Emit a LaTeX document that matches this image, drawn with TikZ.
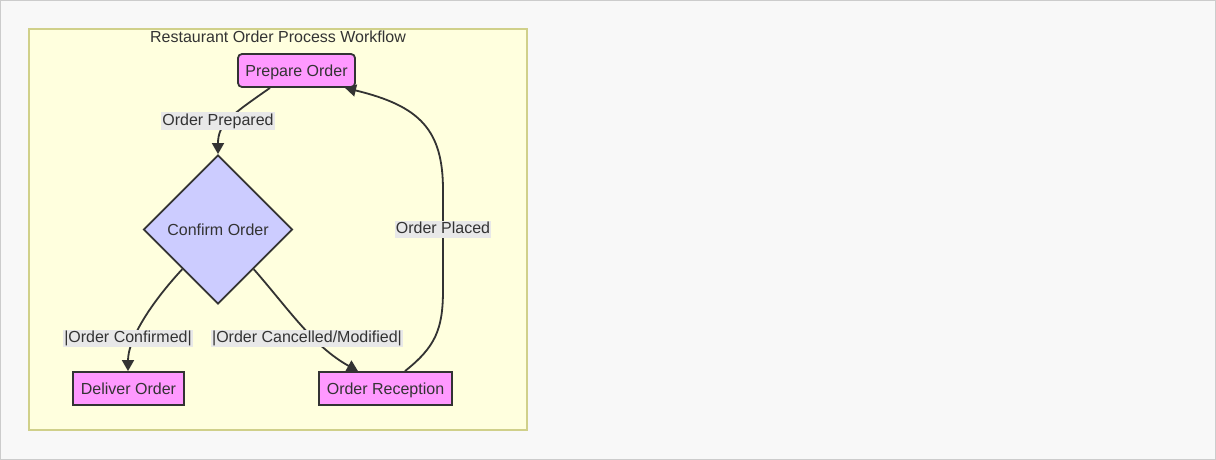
\documentclass[tikz,border=0pt]{standalone}
\usepackage{fontspec}
\setmainfont{Liberation Sans}
\usetikzlibrary{shapes.geometric,arrows.meta}
\definecolor{bgc}{HTML}{F8F8F8}
\definecolor{bgborder}{HTML}{CCCCCC}
\definecolor{clfill}{HTML}{FFFFDE}
\definecolor{clborder}{HTML}{D0D08A}
\definecolor{pinkfill}{HTML}{FF99FF}
\definecolor{bluefill}{HTML}{CCCCFF}
\definecolor{ink}{HTML}{333333}
\definecolor{lblbg}{HTML}{E8E8E8}
\tikzset{
  every node/.style={font=\fontsize{16}{19}\selectfont, text=ink},
  procbox/.style={draw=ink, line width=1.8pt, fill=pinkfill, minimum height=33pt, inner sep=0pt, text height=11.5pt, text depth=0pt},
  decbox/.style={diamond, draw=ink, line width=1.8pt, fill=bluefill, minimum width=149pt, minimum height=149pt, inner sep=0pt, aspect=1, text height=11.5pt, text depth=0pt},
  lbl/.style={fill=lblbg, inner xsep=1pt, inner ysep=1pt, text height=12pt, text depth=3.5pt},
  arr/.style={draw=ink, line width=1.8pt, -{Triangle[length=11pt,width=12pt]}},
}
\begin{document}
\begin{tikzpicture}[x=1pt,y=-1pt]
\path[use as bounding box, fill=bgc, draw=bgborder, line width=1pt] (0.5,0.5) rectangle (1215.5,459.5);
\draw[fill=clfill, draw=clborder, line width=1.2pt] (29,29) rectangle (527,430);
\node[text height=11.5pt, text depth=0pt] (title) at (278,37) {Restaurant Order Process Workflow};

\node[procbox, rounded corners=4pt, minimum width=117pt] (prep) at (296.5,70.5) {Prepare Order};
\node[decbox] (conf) at (218,229.5) {Confirm Order};
\node[procbox, minimum width=111pt] (deliv) at (128.5,388.5) {Deliver Order};
\node[procbox, minimum width=133pt] (recep) at (385.5,388.5) {Order Reception};

\draw[arr] ([xshift=-26.5pt]prep.south) .. controls +(-40,28) and +(0,-30) .. (conf.north);
\draw[arr] (conf.228) .. controls +(-35,38) and +(0,-30) .. ([xshift=-0.5pt]deliv.north);
\draw[arr] (conf.312) .. controls +(35,40) and +(-45,-25) .. ([xshift=-27.5pt]recep.north);
\draw[arr] ([xshift=19.5pt]recep.north) .. controls +(30,-24) and +(0,40) .. (443,290) -- (443,190) .. controls +(0,-60) and +(75,18) .. ([xshift=48.5pt]prep.south);

\node[lbl] (l1) at (218,121) {Order Prepared};
\node[lbl] (l2) at (128,338.5) {|Order Confirmed|};
\node[lbl] (l3) at (307,338.5) {|Order Cancelled/Modified|};
\node[lbl] (l4) at (443,229.5) {Order Placed};
\end{tikzpicture}
\end{document}
